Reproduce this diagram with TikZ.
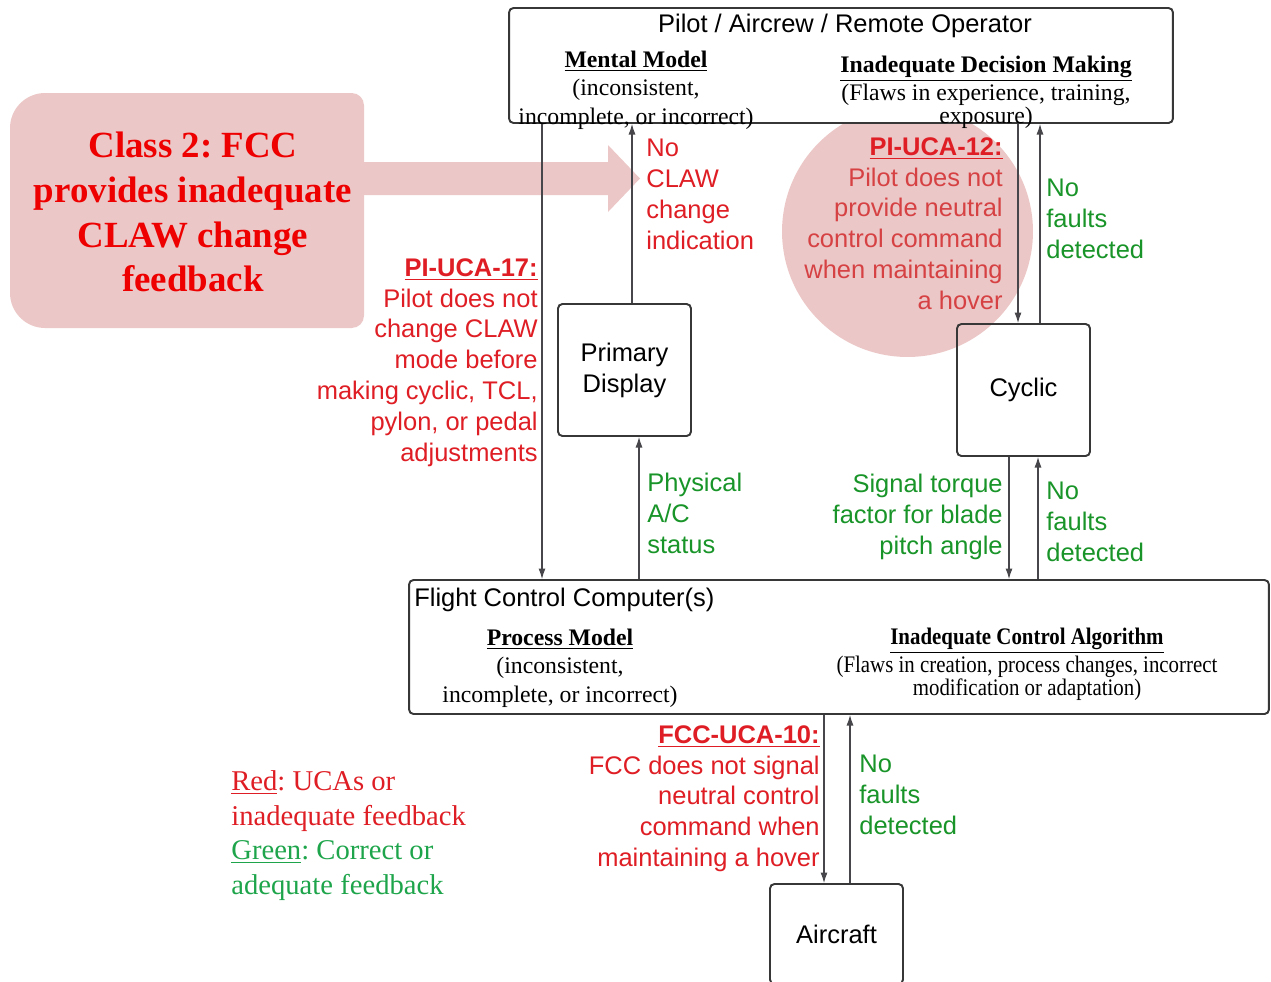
\documentclass[tikz,border=0pt]{standalone}
\usepackage{fontspec}
\setmainfont{Liberation Serif}
\setsansfont{Liberation Sans}
\newfontfamily\narrowserif{Liberation Serif}[FakeStretch=0.88]
\usetikzlibrary{arrows.meta}
\frenchspacing

\definecolor{ucared}{RGB}{222,30,36}
\definecolor{softred}{RGB}{214,66,68}
\definecolor{okgreen}{RGB}{24,148,40}
\definecolor{keygreen}{RGB}{30,165,75}
\definecolor{classred}{RGB}{238,0,0}
\definecolor{blush}{RGB}{236,199,199}
\definecolor{edgegray}{RGB}{55,55,55}
\definecolor{wiregray}{RGB}{70,70,75}

\tikzset{
  block/.style={draw=edgegray, line width=1.1pt, rounded corners=2.5pt, inner sep=0pt},
  flow/.style={draw=wiregray, line width=0.6pt, -{Latex[length=6pt,width=4pt]}},
  sanstext/.style={font=\sffamily\fontsize{14.5}{17.6}\selectfont, inner sep=0pt},
  serifnote/.style={font=\fontsize{13.5}{16.2}\selectfont, inner sep=0pt, align=center},
  bad/.style={sanstext, text=ucared},
  good/.style={sanstext, text=okgreen},
}

\begin{document}
\begin{tikzpicture}[x=0.02cm, y=-0.02cm]
\useasboundingbox (0,0) rectangle (1271,981);

% highlight shapes behind the diagram
\fill[blush] (907.5,231.5) circle[radius=2.51cm];
\fill[blush] (10,200) [rounded corners=20pt] -- (10,93) [rounded corners=7pt] -- (364,93)
  -- (364,328) [rounded corners=20pt] -- (10,328) -- (10,200) -- cycle;
\fill[blush] (363,162) -- (608,162) -- (608,145) -- (640,178.5)
  -- (608,212) -- (608,195) -- (363,195) -- cycle;
\node[inner sep=0pt, align=center, text=classred,
      font=\bfseries\fontsize{21}{25.5}\selectfont] (class) at (193,212)
  {Class 2: FCC\\provides inadequate\\CLAW change\\feedback};

% controller boxes
\node[block, fill=white, minimum width=13.28cm, minimum height=2.3cm] (top) at (841,65.5) {};
\node[block, fill=white, minimum width=17.2cm, minimum height=2.68cm] (fcc) at (839,647) {};
\node[block, sanstext, align=center, minimum width=2.66cm, minimum height=2.64cm] (pd) at (624.5,370) {Primary\\Display};
\node[block, sanstext, align=center, minimum width=2.66cm, minimum height=2.64cm] (cyc) at (1023.5,390) {Cyclic};
\node[block, sanstext, align=center, minimum width=2.66cm, minimum height=2cm] (air) at (836.5,934) {Aircraft};

% text inside the controller boxes
\node[sanstext] (toptitle) at (845,26) {Pilot / Aircrew / Remote Operator};
\node[serifnote, anchor=north] (mental) at (636,50.5)
  {\textbf{\underline{Mental Model}}\\(inconsistent,\\incomplete, or incorrect)};
\node[serifnote, anchor=north] (decide) at (986,55.5)
  {\textbf{\underline{Inadequate Decision Making}}\\(Flaws in experience, training,\\[-3.4pt]exposure)};
\node[sanstext, anchor=west] (fcctitle) at (414,600) {Flight Control Computer(s)};
\node[serifnote, anchor=north] (procmodel) at (560,628.5)
  {\textbf{\underline{Process Model}}\\(inconsistent,\\incomplete, or incorrect)};
\node[serifnote, anchor=north, font=\narrowserif\fontsize{13.5}{16.2}\selectfont] (ctrlalg) at (1027,627.5)
  {\textbf{\underline{Inadequate Control Algorithm}}\\(Flaws in creation, process changes, incorrect\\[-3.4pt]modification or adaptation)};

% x positions of the vertical links
\coordinate (xa) at (542,0);
\coordinate (xb) at (632,0);
\coordinate (xc) at (639,0);
\coordinate (xd) at (1018,0);
\coordinate (xe) at (1040,0);
\coordinate (xf) at (1009,0);
\coordinate (xg) at (1038,0);
\coordinate (xh) at (824,0);
\coordinate (xi) at (850,0);

% control actions and feedback
\draw[flow] (top.south -| xa) -- (fcc.north -| xa);
\draw[flow] (pd.north -| xb) -- (top.south -| xb);
\draw[flow] (fcc.north -| xc) -- (pd.south -| xc);
\draw[flow] (top.south -| xd) -- (cyc.north -| xd);
\draw[flow] (cyc.north -| xe) -- (top.south -| xe);
\draw[flow] (cyc.south -| xf) -- (fcc.north -| xf);
\draw[flow] (fcc.north -| xg) -- (cyc.south -| xg);
\draw[flow] (fcc.south -| xh) -- (air.north -| xh);
\draw[flow] (air.north -| xi) -- (fcc.south -| xi);

% link labels
\node[bad, anchor=north west, align=left] (noclaw) at (646,139) {No\\CLAW\\change\\indication};
\node[bad, anchor=north east, align=right] (uca17) at (538,258)
  {\textbf{\underline{PI-UCA-17:}}\\Pilot does not\\change CLAW\\mode before\\making cyclic, TCL,\\pylon, or pedal\\adjustments};
\node[sanstext, text=softred, anchor=north east, align=right] (uca12) at (1003,137)
  {\textcolor{ucared}{\textbf{\underline{PI-UCA-12:}}}\\Pilot does not\\provide neutral\\control command\\when maintaining\\a hover};
\node[good, anchor=north west, align=left] (nf1) at (1046,179) {No\\faults\\detected};
\node[good, anchor=north west, align=left] (phys) at (647,473) {Physical\\A/C\\status};
\node[good, anchor=north east, align=right] (sig) at (1003,474) {Signal torque\\factor for blade\\pitch angle};
\node[good, anchor=north west, align=left] (nf2) at (1046,482) {No\\faults\\detected};
\node[bad, anchor=north east, align=right] (uca10) at (820,725)
  {\textbf{\underline{FCC-UCA-10:}}\\FCC does not signal\\neutral control\\command when\\maintaining a hover};
\node[good, anchor=north west, align=left] (nf3) at (859,755) {No\\faults\\detected};

% colour key
\node[anchor=north west, inner sep=0pt, align=left, text=ucared,
      font=\fontsize{16.3}{19.8}\selectfont] (keyred) at (231,770)
  {\underline{Red}: UCAs or\\inadequate feedback};
\node[anchor=north west, inner sep=0pt, align=left, text=keygreen,
      font=\fontsize{16.3}{19.8}\selectfont] (keygreen) at (231,840)
  {\underline{Green}: Correct or\\adequate feedback};
\end{tikzpicture}
\end{document}
